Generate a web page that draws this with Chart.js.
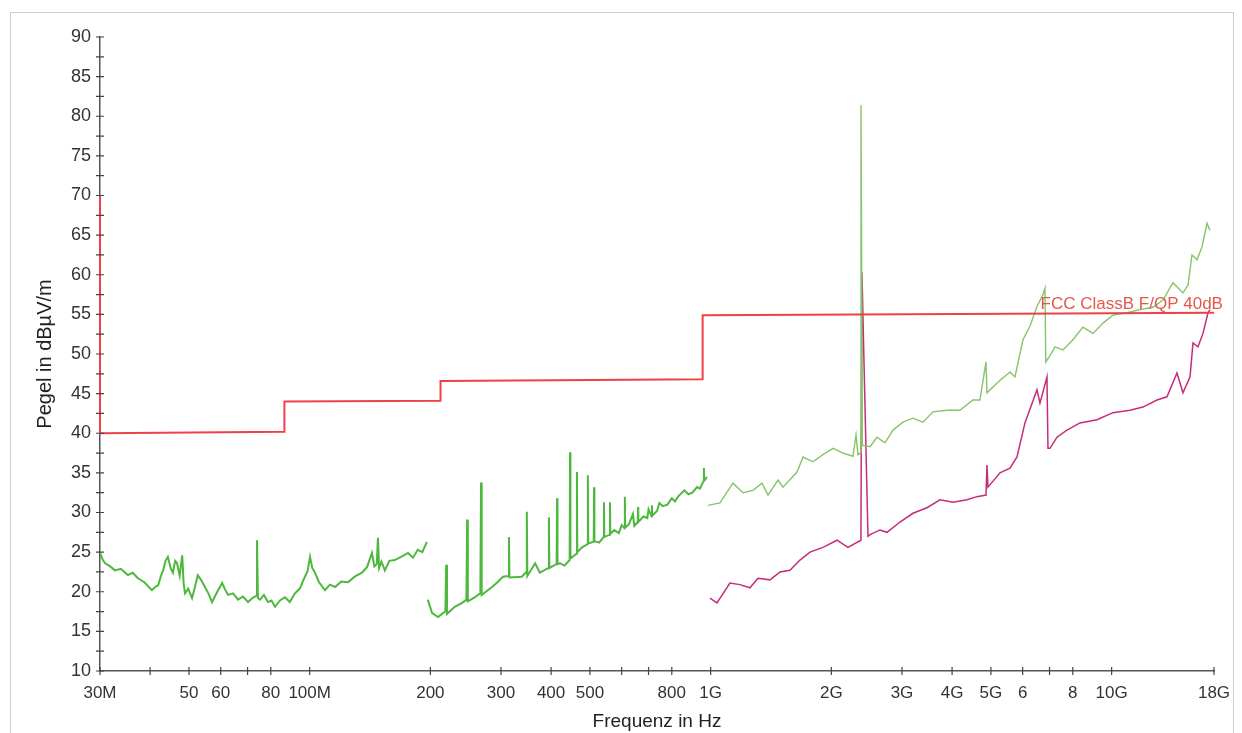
<!DOCTYPE html>
<html>
<head>
<meta charset="utf-8">
<script src="https://cdn.jsdelivr.net/npm/chart.js@4/dist/chart.umd.min.js"></script>
<style>
    body { margin: 0; background: #ffffff; }
    #scan-frame { position: absolute; left: 10px; top: 12px; width: 1222px; height: 740px; border: 1px solid #cfcfcf; }
    #emi-chart { position: absolute; left: 0; top: 0; }
</style>
</head>
<body>
<div id="scan-frame"></div>
<canvas id="emi-chart" width="1242" height="733"></canvas>
<script>
//////////////////////////////////////////////////////////////////////////////////
//---------------------------------- DATA ---------------------------------------//
// frequencies in MHz, levels in dBuV/m

// FCC Class B limit line
var limitFreq = [30, 30, 86.5, 86.5, 212, 212, 955, 955, 18000]
var limitLevel = [70, 40, 40.2, 44, 44.1, 46.6, 46.8, 54.9, 55.2]

// peak scan 30M - 200M
var peakLowFreq = [30, 30.5, 30.9, 31.8, 32.7, 33.8, 35.2, 36.2, 37.3, 38.7, 40.4, 41.2, 41.9, 42.5, 43.1, 43.7, 44.3, 45, 45.6, 46.2,
    46.7, 47.4, 48.1, 48.5, 48.9, 49.8, 50.9, 51.7, 52.6, 53.6, 54.8, 55.9, 57.1, 58.7, 60.5, 61.5, 62.6, 64.4, 66.3, 68.2,
    70.2, 72, 73.6, 73.9, 74.3, 75.2, 76.9, 78.7, 80.3, 82.0, 84.3, 86.8, 89.2, 91.9, 94.5, 97.3, 98.8, 100.2, 101.5, 103.1,
    105.5, 109.2, 112.3, 115.7, 119.9, 124.6, 129.5, 135, 139, 143, 145, 147, 148, 149, 151, 154, 158, 163, 169, 176,
    181, 186, 191, 196]
var peakLowLevel = [24.9, 24.0, 23.6, 23.2, 22.7, 22.9, 22.1, 22.4, 21.7, 21.2, 20.2, 20.6, 20.8, 21.9, 22.7, 23.9, 24.4, 23.0, 22.4, 23.9,
    23.6, 22.0, 24.6, 21.0, 19.8, 20.4, 19.2, 20.5, 22.1, 21.5, 20.6, 19.8, 18.7, 19.9, 21.1, 20.3, 19.6, 19.8, 19.0, 19.4,
    18.7, 19.2, 19.5, 26.5, 19.2, 19.0, 19.6, 18.7, 18.9, 18.1, 18.9, 19.3, 18.7, 19.8, 20.4, 21.9, 22.6, 24.4, 23.0, 22.4,
    21.2, 20.2, 20.9, 20.6, 21.3, 21.2, 21.9, 22.4, 23.1, 24.9, 23.2, 23.5, 26.8, 23.0, 23.8, 22.7, 23.9, 24.0, 24.4, 24.9,
    24.3, 25.3, 25.0, 26.3]

// peak scan 200M - 1G
var peakMidFreq = [197, 202, 209, 215, 218, 219, 220, 230, 240, 246, 247, 248, 258, 266.5, 267.5, 268.5, 285, 294, 303.5, 313,
    314, 315, 338, 347, 348, 349, 365, 375, 394, 395, 396, 413, 414, 415, 421, 432, 445, 446, 447, 463,
    464, 465, 478, 493, 494, 495, 511, 512, 513, 527, 541, 542, 543, 560, 561, 562, 575, 590, 600, 610,
    611, 612, 625, 640, 645, 658, 659, 660, 680, 695, 700, 713, 714, 715, 735, 745, 760, 780, 800, 815,
    829, 860, 880, 900, 925, 940, 961, 962, 963, 979]
var peakMidLevel = [19.0, 17.3, 16.8, 17.3, 17.5, 23.4, 17.2, 18.1, 18.6, 19.0, 29.1, 18.8, 19.3, 19.8, 33.8, 19.6, 20.6, 21.2, 21.9, 22.0,
    26.9, 21.8, 21.9, 22.5, 30.1, 22.0, 23.6, 22.4, 23.0, 29.4, 23.0, 23.5, 31.8, 23.5, 23.6, 23.3, 24.0, 37.6, 24.2, 24.8,
    35.1, 25.0, 25.6, 26.0, 34.7, 26.1, 26.3, 33.2, 26.4, 26.2, 26.9, 31.3, 26.9, 27.2, 31.3, 27.3, 27.8, 27.4, 28.4, 28.0,
    32.0, 28.1, 28.5, 29.8, 28.3, 28.8, 30.7, 28.8, 29.5, 29.3, 30.4, 29.5, 30.9, 29.6, 30.2, 31.2, 30.8, 31.0, 31.8, 31.4,
    32.0, 32.8, 32.3, 32.5, 33.2, 33.0, 34.0, 35.6, 34.0, 34.5]

// peak scan 1G - 18G
var peakHighFreq = [985, 1055, 1137, 1204, 1275, 1343, 1390, 1472, 1515, 1642, 1700, 1800, 1906, 2019, 2138, 2264, 2304, 2330, 2362, 2371,
    2390, 2497, 2599, 2721, 2849, 3017, 3196, 3384, 3585, 3886, 4185, 4510, 4694, 4860, 4888, 5267, 5578, 5740, 6010, 6255,
    6513, 6742, 6820, 6850, 7018, 7224, 7561, 8007, 8483, 8985, 9513, 10076, 10920, 11766, 12678, 13428, 14222, 15063, 15503, 15864,
    16325, 16800, 17289, 17590]
var peakHighLevel = [30.9, 31.2, 33.7, 32.5, 32.8, 33.7, 32.2, 34.1, 33.2, 35.1, 37.0, 36.4, 37.3, 38.1, 37.5, 37.1, 39.8, 37.3, 37.5, 81.4,
    38.5, 38.3, 39.5, 38.8, 40.4, 41.4, 41.9, 41.4, 42.7, 42.9, 42.9, 44.2, 44.2, 49.0, 45.1, 46.7, 47.7, 47.1, 51.8, 53.5,
    56.0, 57.5, 58.3, 49.0, 49.8, 50.9, 50.5, 51.8, 53.4, 52.6, 53.9, 54.9, 55.2, 55.6, 55.9, 56.8, 59.0, 57.7, 58.7, 62.5,
    61.9, 63.5, 66.5, 65.6]

// average scan 1G - 18G
var avgFreq = [996, 1037, 1117, 1183, 1253, 1312, 1406, 1489, 1577, 1670, 1769, 1906, 2066, 2200, 2370, 2384, 2468, 2497, 2644, 2752,
    2966, 3196, 3463, 3732, 4023, 4358, 4614, 4860, 4888, 4916, 5267, 5578, 5807, 6079, 6513, 6626, 6898, 6938, 7018, 7306,
    7737, 8337, 9193, 10076, 11110, 11970, 12973, 13740, 14552, 15063, 15682, 15955, 16419, 16896, 17390, 17590]
var avgLevel = [19.2, 18.6, 21.1, 20.9, 20.5, 21.7, 21.5, 22.5, 22.7, 24.0, 25.0, 25.6, 26.5, 25.6, 26.5, 60.3, 27.0, 27.2, 27.8, 27.5,
    28.8, 29.9, 30.6, 31.6, 31.3, 31.6, 32.0, 32.2, 36.0, 33.2, 35.0, 35.6, 37.0, 41.3, 45.5, 43.8, 47.1, 38.1, 38.1, 39.5,
    40.4, 41.3, 41.7, 42.6, 42.9, 43.3, 44.2, 44.6, 47.6, 45.1, 47.1, 51.4, 50.9, 52.6, 55.2, 55.6]

// axis ticks
var xTickValues = [30, 40, 50, 60, 70, 80, 100, 200, 300, 400, 500, 600, 700, 800, 1000, 2000, 3000, 4000, 5000, 6000, 7000, 8000, 10000, 18000]
var xTickLabels = ['30M', '', '50', '60', '', '80', '100M', '200', '300', '400', '500', '', '', '800', '1G', '2G', '3G', '4G', '5G', '6', '', '8', '10G', '18G']
var yTickValues = [10, 12.5, 15, 17.5, 20, 22.5, 25, 27.5, 30, 32.5, 35, 37.5, 40, 42.5, 45, 47.5, 50, 52.5, 55, 57.5, 60, 62.5, 65, 67.5, 70, 72.5, 75, 77.5, 80, 82.5, 85, 87.5, 90]

var limitName = 'FCC ClassB F/QP 40dB'
var fontFamily = "'Liberation Sans', Arial, sans-serif"

//////////////////////////////////////////////////////////////////////////////////
function toPoints(freq, level) {
    return freq.map((f, i) => ({ x: f, y: level[i] }))
}

//tick crosses on both axes
const tickCrosses = {
    id: 'tickCrosses',
    afterDraw(chart) {
        const ctx = chart.ctx
        const xs = chart.scales.x
        const ys = chart.scales.y
        ctx.save()
        ctx.strokeStyle = '#444'
        ctx.lineWidth = 1.2
        ctx.beginPath()
        xs.ticks.forEach(t => {
            var px = xs.getPixelForValue(t.value)
            ctx.moveTo(px, ys.bottom - 4)
            ctx.lineTo(px, ys.bottom + 4)
        })
        ys.ticks.forEach(t => {
            var py = ys.getPixelForValue(t.value)
            ctx.moveTo(xs.left - 4, py)
            ctx.lineTo(xs.left + 4, py)
        })
        ctx.stroke()
        ctx.restore()
    }
}

//limit line name
const limitLabel = {
    id: 'limitLabel',
    afterDatasetsDraw(chart) {
        const ctx = chart.ctx
        var px = chart.scales.x.getPixelForValue(6650)
        var py = chart.scales.y.getPixelForValue(55) - 5
        ctx.save()
        ctx.font = '17px ' + fontFamily
        ctx.fillStyle = '#e5574b'
        ctx.textAlign = 'left'
        ctx.textBaseline = 'alphabetic'
        ctx.fillText(limitName, px, py)
        ctx.restore()
    }
}

var ctxEmi = document.getElementById('emi-chart').getContext('2d');

let emiChart = new Chart(ctxEmi, {
    type: 'scatter',
    data: {
        datasets: [{
            label: limitName,
            data: toPoints(limitFreq, limitLevel),
            showLine: true,
            borderColor: '#ee4049',
            borderWidth: 2,
            pointRadius: 0,
            clip: false
        }, {
            label: 'Peak',
            data: toPoints(peakLowFreq, peakLowLevel),
            showLine: true,
            borderColor: '#4db83d',
            borderWidth: 2,
            pointRadius: 0
        }, {
            label: 'Peak',
            data: toPoints(peakMidFreq, peakMidLevel),
            showLine: true,
            borderColor: '#4db83d',
            borderWidth: 2,
            pointRadius: 0
        }, {
            label: 'Peak',
            data: toPoints(peakHighFreq, peakHighLevel),
            showLine: true,
            borderColor: '#86c46a',
            borderWidth: 1.4,
            pointRadius: 0
        }, {
            label: 'Average',
            data: toPoints(avgFreq, avgLevel),
            showLine: true,
            borderColor: '#c42d7c',
            borderWidth: 1.5,
            pointRadius: 0
        }]
    },
    options: {
        responsive: false,
        animation: false,
        layout: {
            padding: { left: 0, right: 28, top: 37, bottom: 0 }
        },
        plugins: {
            legend: { display: false },
            tooltip: { enabled: false }
        },
        scales: {
            x: {
                type: 'logarithmic',
                min: 30,
                max: 18000,
                grid: { display: false },
                border: { display: true, color: '#555', width: 1.5 },
                afterBuildTicks: scale => { scale.ticks = xTickValues.map(v => ({ value: v })) },
                afterFit: scale => { scale.height = 62 },
                ticks: {
                    autoSkip: false,
                    maxRotation: 0,
                    padding: 4,
                    color: '#333',
                    font: { family: fontFamily, size: 17 },
                    callback: (value, index) => xTickLabels[index]
                },
                title: {
                    display: true,
                    text: 'Frequenz in Hz',
                    color: '#222',
                    font: { family: fontFamily, size: 19 },
                    padding: { top: 0, bottom: 0 }
                }
            },
            y: {
                min: 10,
                max: 90,
                grid: { display: false },
                border: { display: true, color: '#555', width: 1.5 },
                afterBuildTicks: scale => { scale.ticks = yTickValues.map(v => ({ value: v })) },
                afterFit: scale => { scale.width = 100 },
                ticks: {
                    autoSkip: false,
                    padding: 1,
                    color: '#333',
                    font: { family: fontFamily, size: 18 },
                    callback: value => (value % 5 === 0 ? String(value) : '')
                },
                title: {
                    display: true,
                    text: 'Pegel in dBµV/m',
                    color: '#222',
                    font: { family: fontFamily, size: 20 },
                    padding: { top: 33, bottom: 0 }
                }
            }
        }
    },
    plugins: [tickCrosses, limitLabel]
})
</script>
</body>
</html>
